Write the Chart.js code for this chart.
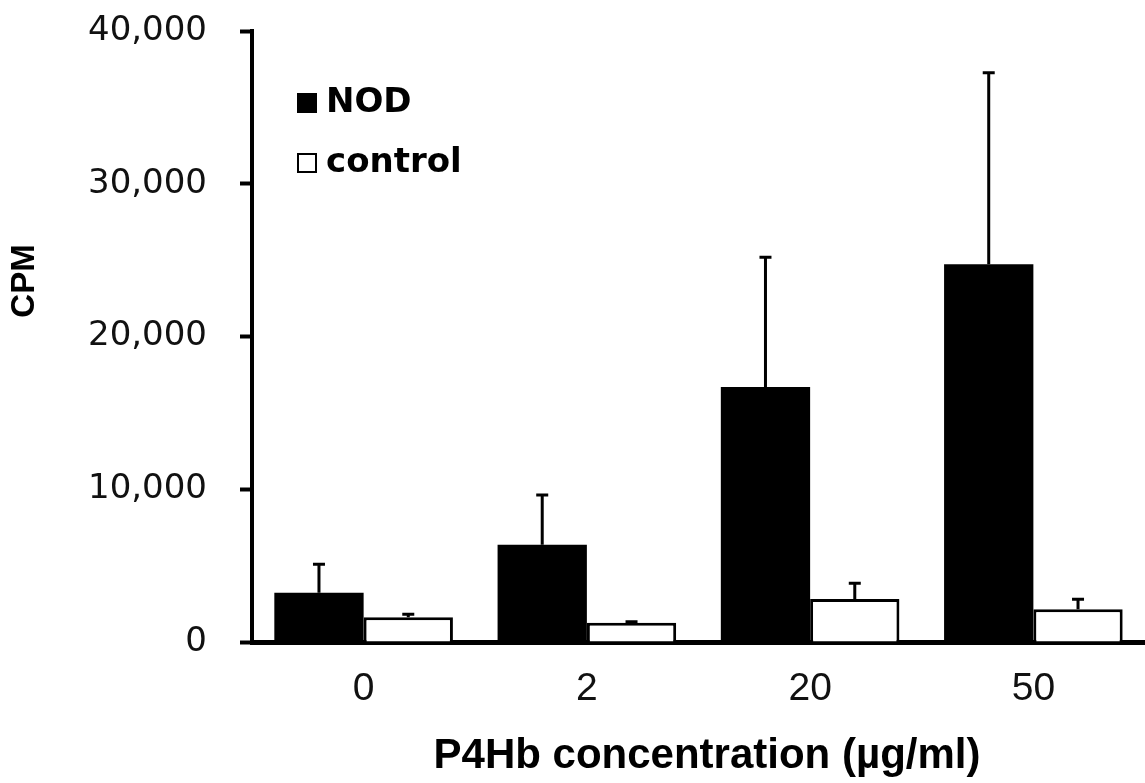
<!DOCTYPE html>
<html>
<head>
<meta charset="utf-8">
<script src="https://cdn.jsdelivr.net/npm/chart.js@4/dist/chart.umd.min.js"></script>
<style>
  body { margin: 0; background: #fff; }
  #wrap { width: 1145px; height: 783px; }
</style>
</head>
<body>
<div id="wrap"><canvas id="cpmChart" width="1145" height="783"></canvas></div>
<script>
let concentrations = ["0", "2", "20", "50"];
let nodValues = [3230, 6370, 16700, 24730];
let nodErrors = [1860, 3260, 8490, 12530];
let controlValues = [1620, 1265, 2815, 2140];
let controlErrors = [190, 60, 1025, 660];
let yTicks = [0, 10000, 20000, 30000, 40000];
let xTitle = "P4Hb concentration (µg/ml)";
let yTitle = "CPM";

let canvas = document.getElementById('cpmChart');

// one-sided error bars above each bar
let errorBars = {
    id: 'errorBars',
    afterDatasetsDraw(chart) {
        let ctx = chart.ctx;
        let yScale = chart.scales.y;
        chart.data.datasets.forEach(function (ds, i) {
            let meta = chart.getDatasetMeta(i);
            meta.data.forEach(function (bar, j) {
                let top = yScale.getPixelForValue(ds.data[j] + ds.errors[j]);
                ctx.save();
                ctx.strokeStyle = '#000';
                ctx.lineWidth = 3;
                ctx.beginPath();
                ctx.moveTo(bar.x, bar.y);
                ctx.lineTo(bar.x, top);
                ctx.moveTo(bar.x - 6, top);
                ctx.lineTo(bar.x + 6, top);
                ctx.stroke();
                ctx.restore();
            });
        });
    }
};

// legend inside the plot, top left
let insideLegend = {
    id: 'insideLegend',
    afterDraw(chart) {
        let ctx = chart.ctx;
        let rows = [102, 162];
        ctx.save();
        ctx.font = 'bold 34px "DejaVu Sans", sans-serif';
        ctx.textBaseline = 'middle';
        chart.data.datasets.forEach(function (ds, i) {
            let y = rows[i];
            ctx.fillStyle = ds.backgroundColor;
            ctx.fillRect(298, y - 8, 18, 18);
            ctx.strokeStyle = '#000';
            ctx.lineWidth = 2;
            ctx.strokeRect(298, y - 8, 18, 18);
            ctx.fillStyle = '#000';
            ctx.fillText(ds.label, 326, y + 1);
        });
        ctx.restore();
    }
};

// axis titles placed where the figure has them
let axisTitles = {
    id: 'axisTitles',
    afterDraw(chart) {
        let ctx = chart.ctx;
        ctx.save();
        ctx.fillStyle = '#000';
        ctx.textAlign = 'center';
        ctx.textBaseline = 'middle';
        ctx.font = 'bold 42px "Liberation Sans", Arial, sans-serif';
        ctx.fillText(xTitle, 707, 756);
        ctx.translate(25, 281);
        ctx.rotate(-Math.PI / 2);
        ctx.font = 'bold 33px "Liberation Sans", Arial, sans-serif';
        ctx.fillText(yTitle, 0, 0);
        ctx.restore();
    }
};

let barChart = new Chart(canvas, {
    type: 'bar',
    data: {
        labels: concentrations,
        datasets: [
            {
                label: 'NOD',
                data: nodValues,
                errors: nodErrors,
                backgroundColor: '#000',
                borderColor: '#000',
                borderWidth: 0,
                categoryPercentage: 0.8,
                barPercentage: 1.0
            },
            {
                label: 'control',
                data: controlValues,
                errors: controlErrors,
                backgroundColor: '#fff',
                borderColor: '#000',
                borderWidth: 3,
                categoryPercentage: 0.8,
                barPercentage: 1.0
            }
        ]
    },
    options: {
        responsive: false,
        animation: false,
        devicePixelRatio: 1,
        layout: { padding: { top: 31, left: 0, right: 0, bottom: 0 } },
        plugins: {
            legend: { display: false },
            tooltip: { enabled: false }
        },
        scales: {
            x: {
                grid: { display: false, drawTicks: false },
                border: { display: true, color: '#000', width: 5 },
                ticks: {
                    color: '#111',
                    padding: 24,
                    font: { family: '"Liberation Sans", Arial, sans-serif', size: 39 }
                },
                afterFit: function (scale) { scale.height = 141; }
            },
            y: {
                min: 0,
                max: 40000,
                afterBuildTicks: function (scale) {
                    scale.ticks = yTicks.map(function (v) { return { value: v }; });
                },
                grid: {
                    drawOnChartArea: false,
                    drawTicks: true,
                    tickLength: 12,
                    tickWidth: 4,
                    tickColor: '#000'
                },
                border: { display: true, color: '#000', width: 4 },
                ticks: {
                    color: '#111',
                    padding: 33,
                    font: { family: '"DejaVu Sans", sans-serif', size: 34 },
                    callback: function (v) { return Number(v).toLocaleString('en-US'); }
                },
                afterFit: function (scale) {
                    scale.width = 252;
                    scale.paddingTop = 0;
                    scale.paddingBottom = 0;
                }
            }
        }
    },
    plugins: [errorBars, insideLegend, axisTitles]
});
</script>
</body>
</html>
